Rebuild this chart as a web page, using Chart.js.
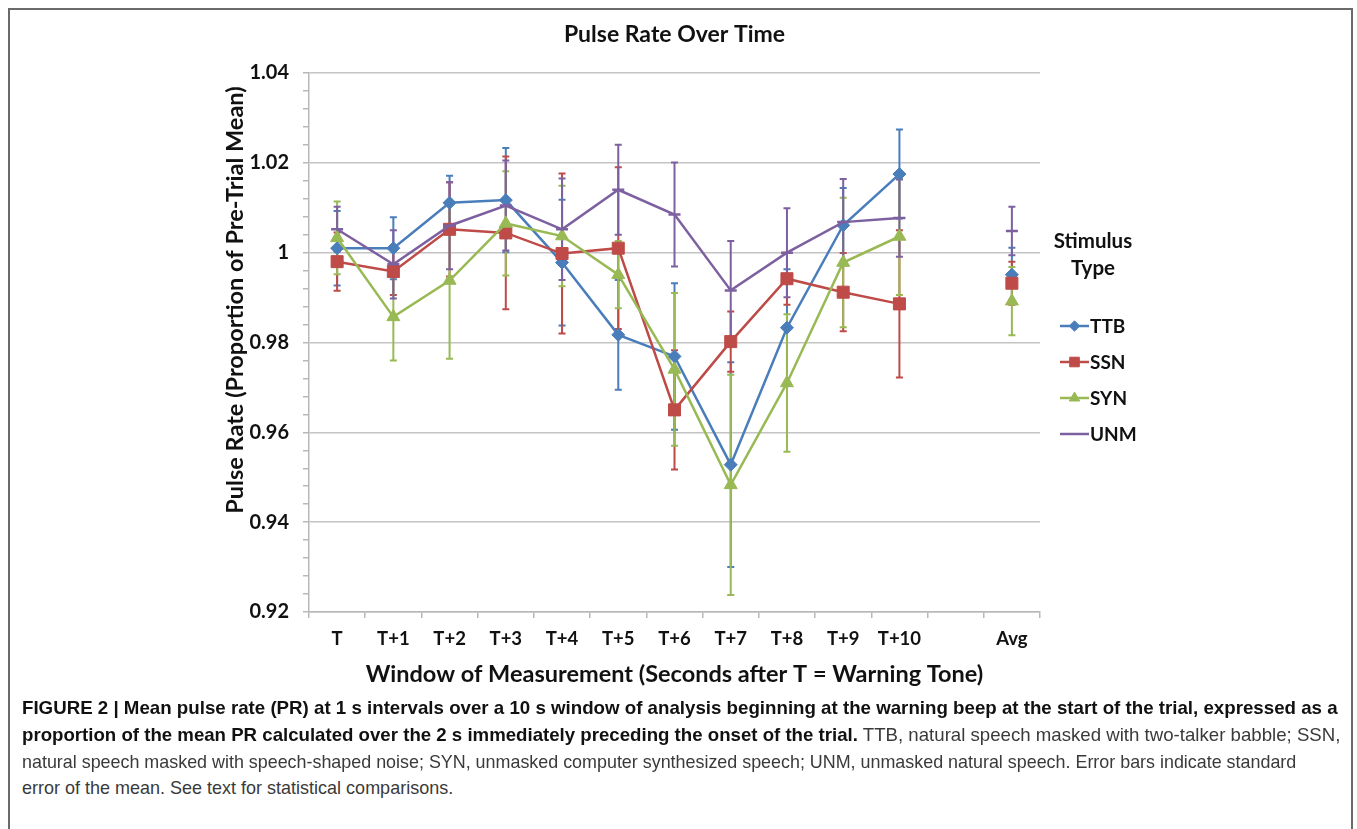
<!DOCTYPE html>
<html>
<head>
<meta charset="utf-8">
<script src="https://cdn.jsdelivr.net/npm/chart.js@4.4.1/dist/chart.umd.min.js"></script>
<style>
  html, body { margin: 0; padding: 0; background: #fff; }
  body { width: 1357px; height: 829px; position: relative; overflow: hidden; }
  #frame { position: absolute; left: 8px; top: 8px; width: 1345px; height: 840px; border: 2px solid #6a6a6a; box-sizing: border-box; pointer-events: none; }
  #wrap { position: absolute; left: 0; top: 0; width: 1357px; height: 700px; }
  .cap { position: absolute; left: 22px; white-space: nowrap; font-family: "Liberation Sans", Arial, sans-serif; font-size: 18.5px; line-height: 20px; color: #3a3a3a; transform-origin: 0 50%; }
  .cap b { color: #111; }
</style>
</head>
<body>
<div id="wrap"><canvas id="c" width="1357" height="700"></canvas></div>
<div class="cap" id="l1" style="top:698px"><b>FIGURE 2 | Mean pulse rate (PR) at 1 s intervals over a 10 s window of analysis beginning at the warning beep at the start of the trial, expressed as a</b></div>
<div class="cap" id="l2" style="top:725px"><b>proportion of the mean PR calculated over the 2 s immediately preceding the onset of the trial.</b> TTB, natural speech masked with two-talker babble; SSN,</div>
<div class="cap" id="l3" style="top:752px">natural speech masked with speech-shaped noise; SYN, unmasked computer synthesized speech; UNM, unmasked natural speech. Error bars indicate standard</div>
<div class="cap" id="l4" style="top:778px">error of the mean. See text for statistical comparisons.</div>
<div id="frame"></div>
<script>
// ---- data ----
const categories = ['T','T+1','T+2','T+3','T+4','T+5','T+6','T+7','T+8','T+9','T+10','','Avg'];
const seriesNames = ['TTB','SSN','SYN','UNM'];
const ttb    = [1.0010, 1.0010, 1.0111, 1.0117, 0.9978, 0.9817, 0.9769, 0.9528, 0.9833, 1.0061, 1.0175, null, 0.9951];
const ttbErr = [0.0083, 0.0069, 0.0060, 0.0116, 0.0140, 0.0122, 0.0163, 0.0228, 0.0130, 0.0083, 0.0099, null, 0.0060];
const ssn    = [0.9980, 0.9958, 1.0052, 1.0044, 0.9998, 1.0010, 0.9650, 0.9802, 0.9942, 0.9912, 0.9886, null, 0.9932];
const ssnErr = [0.0065, 0.0052, 0.0105, 0.0170, 0.0178, 0.0180, 0.0133, 0.0067, 0.0058, 0.0087, 0.0164, null, 0.0048];
const syn    = [1.0033, 0.9857, 0.9938, 1.0065, 1.0037, 0.9951, 0.9740, 0.9483, 0.9710, 0.9978, 1.0036, null, 0.9892];
const synErr = [0.0081, 0.0097, 0.0174, 0.0116, 0.0112, 0.0075, 0.0170, 0.0245, 0.0153, 0.0144, 0.0130, null, 0.0076];
const unm    = [1.0052, 0.9974, 1.0060, 1.0105, 1.0052, 1.0140, 1.0085, 0.9916, 1.0000, 1.0068, 1.0077, null, 1.0048];
const unmErr = [0.0050, 0.0076, 0.0097, 0.0100, 0.0113, 0.0100, 0.0116, 0.0110, 0.0099, 0.0096, 0.0086, null, 0.0054];
const yTickLabels = ['0.92','0.94','0.96','0.98','1','1.02','1.04'];

const chartTitle = 'Pulse Rate Over Time';
const yTitle = 'Pulse Rate (Proportion of Pre-Trial Mean)';
const xTitle = 'Window of Measurement (Seconds after T = Warning Tone)';
const legendTitle = ['Stimulus', 'Type'];

// ---- styles ----
const colors = ['#4A7EBB', '#BE4B48', '#98B954', '#7D60A0'];
const markers = ['rectRot', 'rect', 'triangle', 'line'];
const markerRadius = [6.5, 8.5, 7.5, 6];
const values = [ttb, ssn, syn, unm];
const errors = [ttbErr, ssnErr, synErr, unmErr];
const FONT = 'Lato, "Open Sans", sans-serif';

const datasets = seriesNames.map((name, i) => ({
  label: name,
  data: values[i],
  errors: errors[i],
  borderColor: colors[i],
  backgroundColor: colors[i],
  borderWidth: 2.5,
  pointStyle: markers[i],
  pointRadius: markerRadius[i],
  pointBorderWidth: i === 3 ? 2.5 : 1,
  pointHoverRadius: markerRadius[i],
  spanGaps: false,
  tension: 0,
  order: 4 - i
}));

const errorBarPlugin = {
  id: 'errorBars',
  beforeDatasetsDraw(chart) {
    const ctx = chart.ctx;
    const y = chart.scales.y;
    chart.data.datasets.forEach((ds, i) => {
      const meta = chart.getDatasetMeta(i);
      ctx.save();
      ctx.strokeStyle = ds.borderColor;
      ctx.lineWidth = 2;
      ds.data.forEach((v, j) => {
        const e = ds.errors[j];
        if (v == null || e == null) return;
        const x = meta.data[j].x;
        const yt = y.getPixelForValue(v + e);
        const yb = y.getPixelForValue(v - e);
        ctx.beginPath();
        ctx.moveTo(x, yt); ctx.lineTo(x, yb);
        ctx.moveTo(x - 3.5, yt); ctx.lineTo(x + 3.5, yt);
        ctx.moveTo(x - 3.5, yb); ctx.lineTo(x + 3.5, yb);
        ctx.stroke();
      });
      ctx.restore();
    });
  }
};

const textPlugin = {
  id: 'texts',
  afterDraw(chart) {
    const ctx = chart.ctx;
    const area = chart.chartArea;
    ctx.save();
    ctx.fillStyle = '#111';
    ctx.textBaseline = 'middle';
    ctx.textAlign = 'center';
    // chart title
    ctx.font = 'bold 23px ' + FONT;
    ctx.fillText(chartTitle, (area.left + area.right) / 2, 35);
    // y axis title
    ctx.save();
    ctx.translate(235, 300);
    ctx.rotate(-Math.PI / 2);
    ctx.font = 'bold 23.5px ' + FONT;
    ctx.fillText(yTitle, 0, 0);
    ctx.restore();
    // legend
    ctx.font = 'bold 20.5px ' + FONT;
    ctx.fillText(legendTitle[0], 1093, 241);
    ctx.fillText(legendTitle[1], 1093, 268);
    ctx.textAlign = 'left';
    ctx.font = 'bold 19px ' + FONT;
    const ys = [326, 362, 398, 434];
    chart.data.datasets.forEach((ds, i) => {
      const yy = ys[i];
      ctx.strokeStyle = ds.borderColor;
      ctx.lineWidth = 2.5;
      ctx.beginPath(); ctx.moveTo(1060, yy); ctx.lineTo(1089, yy); ctx.stroke();
      if (i < 3) {
        ctx.fillStyle = ds.backgroundColor;
        ctx.strokeStyle = ds.borderColor;
        ctx.lineWidth = 1;
        Chart.helpers.drawPoint(ctx, { pointStyle: ds.pointStyle, rotation: 0, borderWidth: 1, radius: ds.pointRadius * 0.8 }, 1074.5, yy);
      }
      ctx.fillStyle = '#111';
      ctx.fillText(ds.label, 1090, yy + 1);
    });
    ctx.restore();
  }
};

new Chart(document.getElementById('c'), {
  type: 'line',
  data: { labels: categories, datasets },
  plugins: [errorBarPlugin, textPlugin],
  options: {
    responsive: false,
    devicePixelRatio: 1,
    animation: false,
    events: [],
    layout: { padding: { left: 212, right: 317, top: 73, bottom: 0 } },
    plugins: {
      legend: { display: false },
      tooltip: { enabled: false },
      title: { display: false }
    },
    scales: {
      x: {
        type: 'category',
        offset: true,
        afterFit(s) { s.height = 88; },
        grid: { display: true, drawOnChartArea: false, drawTicks: true, tickLength: 6, offset: true, color: '#b8b8b8', lineWidth: 1.5 },
        border: { display: true, color: '#b8b8b8', width: 1.5 },
        ticks: { color: '#111', font: { family: FONT, size: 18.5, weight: 'bold' }, padding: 10, maxRotation: 0, autoSkip: false },
        title: {
          display: true,
          text: xTitle,
          color: '#111',
          font: { family: FONT, size: 23.5, weight: 'bold' },
          padding: { top: 0, bottom: 11 }
        }
      },
      y: {
        min: 0.92,
        max: 1.04,
        afterFit(s) { s.width = 97; },
        grid: {
          color: (c) => (c.index % 5 === 0 ? '#c4c4c4' : 'rgba(0,0,0,0)'),
          tickColor: '#b8b8b8',
          lineWidth: 1.5,
          drawTicks: true,
          tickLength: 6
        },
        border: { display: true, color: '#b8b8b8', width: 1.5 },
        ticks: {
          stepSize: 0.004,
          autoSkip: false,
          padding: 14,
          color: '#111',
          font: { family: FONT, size: 20, weight: 'bold' },
          callback: (v, idx) => (idx % 5 === 0 ? yTickLabels[idx / 5] : '')
        },
        title: { display: false }
      }
    }
  }
});

// fit caption lines to the reference line widths
const targets = { l1: 1316, l2: 1318, l3: 1274, l4: 431 };
Object.keys(targets).forEach(id => {
  const el = document.getElementById(id);
  const w = el.scrollWidth;
  el.style.transform = 'scaleX(' + (targets[id] / w) + ')';
});
</script>
</body>
</html>
